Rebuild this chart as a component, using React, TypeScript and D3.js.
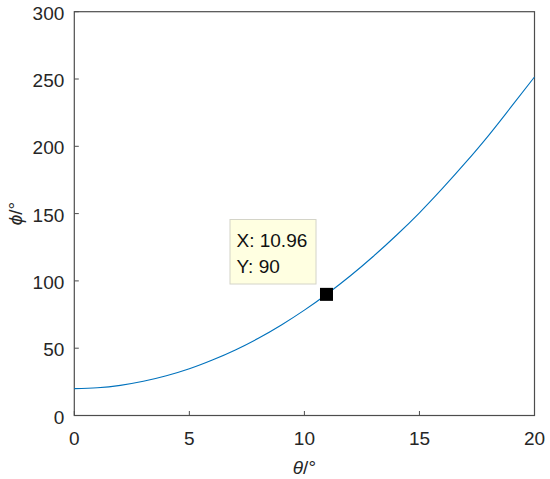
import React, { useEffect, useRef } from "react";
import * as d3 from "d3";

// theta (deg) and phi (deg)
const thetaValues = [0, 1, 2, 3, 4, 5, 6, 7, 8, 9, 10, 11, 12, 13, 14, 15, 16, 17, 18, 19, 20];
const phiValues = [
  20, 20.6, 22.4, 25.4, 29.5, 34.7, 41.2, 48.7, 57.4, 67.3, 78.3, 90.5, 103.8, 118.3, 133.9,
  150.6, 168.7, 187.8, 208.0, 229.6, 251.5,
];
const xTicks = [0, 5, 10, 15, 20];
const yTicks = [0, 50, 100, 150, 200, 250, 300];
const tipX = 10.96;
const tipY = 90;

const width = 550;
const height = 479;
const margin = { left: 74.3, right: 15.5, top: 11.7, bottom: 63.5 };

const App = () => {
  const ref = useRef<SVGSVGElement>(null);

  useEffect(() => {
    const svg = d3.select(ref.current);
    svg.selectAll("*").remove();

    const x = d3
      .scaleLinear()
      .domain([0, 20])
      .range([margin.left, width - margin.right]);
    const y = d3
      .scaleLinear()
      .domain([0, 300])
      .range([height - margin.bottom, margin.top]);

    const font = "Liberation Sans, Arial, sans-serif";
    const axisColor = "#4d4d4d";
    const textColor = "#262626";

    // box
    svg
      .append("rect")
      .attr("x", x(0))
      .attr("y", y(300))
      .attr("width", x(20) - x(0))
      .attr("height", y(0) - y(300))
      .attr("fill", "white")
      .attr("stroke", axisColor)
      .attr("stroke-width", 1.2);

    // ticks
    svg
      .selectAll("line.xt")
      .data(xTicks)
      .enter()
      .append("line")
      .attr("class", "xt")
      .attr("x1", (d) => x(d))
      .attr("x2", (d) => x(d))
      .attr("y1", y(0))
      .attr("y2", y(0) - 4.5)
      .attr("stroke", axisColor);
    svg
      .selectAll("line.yt")
      .data(yTicks)
      .enter()
      .append("line")
      .attr("class", "yt")
      .attr("x1", x(0))
      .attr("x2", x(0) + 4.5)
      .attr("y1", (d) => y(d))
      .attr("y2", (d) => y(d))
      .attr("stroke", axisColor);

    svg
      .selectAll("text.xl")
      .data(xTicks)
      .enter()
      .append("text")
      .attr("class", "xl")
      .attr("x", (d) => x(d))
      .attr("y", y(0) + 29.5)
      .attr("text-anchor", "middle")
      .attr("font-family", font)
      .attr("font-size", 19)
      .attr("fill", textColor)
      .text((d) => d);
    svg
      .selectAll("text.yl")
      .data(yTicks)
      .enter()
      .append("text")
      .attr("class", "yl")
      .attr("x", x(0) - 10)
      .attr("y", (d) => y(d) + 8)
      .attr("text-anchor", "end")
      .attr("font-family", font)
      .attr("font-size", 19)
      .attr("fill", textColor)
      .text((d) => d);

    // axis labels
    const xLab = svg
      .append("text")
      .attr("x", (x(0) + x(20)) / 2)
      .attr("y", 474)
      .attr("text-anchor", "middle")
      .attr("font-family", font)
      .attr("font-size", 19)
      .attr("fill", textColor);
    xLab.append("tspan").attr("font-style", "italic").text("θ");
    xLab.append("tspan").text("/°");

    const yLab = svg
      .append("text")
      .attr("transform", `translate(22, ${(y(0) + y(300)) / 2}) rotate(-90)`)
      .attr("text-anchor", "middle")
      .attr("font-family", font)
      .attr("font-size", 19)
      .attr("fill", textColor);
    yLab.append("tspan").attr("font-style", "italic").text("ϕ");
    yLab.append("tspan").text("/°");

    // curve
    const points = thetaValues.map((t, i) => [t, phiValues[i]] as [number, number]);
    const line = d3
      .line<[number, number]>()
      .x((d) => x(d[0]))
      .y((d) => y(d[1]))
      .curve(d3.curveMonotoneX);
    svg
      .append("path")
      .attr("d", line(points))
      .attr("fill", "none")
      .attr("stroke", "#0072BD")
      .attr("stroke-width", 1.1);

    // data tip
    const m = 13;
    svg
      .append("rect")
      .attr("x", x(tipX) - m / 2)
      .attr("y", y(tipY) - m / 2)
      .attr("width", m)
      .attr("height", m)
      .attr("fill", "black");

    svg
      .append("rect")
      .attr("x", 230)
      .attr("y", 219.5)
      .attr("width", 86)
      .attr("height", 64.5)
      .attr("fill", "#FFFFE1")
      .attr("stroke", "#d4d4c8")
      .attr("stroke-width", 1);
    svg
      .append("text")
      .attr("x", 236.5)
      .attr("y", 247.3)
      .attr("font-family", font)
      .attr("font-size", 19)
      .attr("fill", "#111")
      .text(`X: ${tipX}`);
    svg
      .append("text")
      .attr("x", 236.5)
      .attr("y", 272.5)
      .attr("font-family", font)
      .attr("font-size", 19)
      .attr("fill", "#111")
      .text(`Y: ${tipY}`);
  }, []);

  return (
    <svg
      ref={ref}
      width={width}
      height={height}
      style={{ position: "absolute", left: 0, top: 0, background: "white" }}
    />
  );
};

export default App;
